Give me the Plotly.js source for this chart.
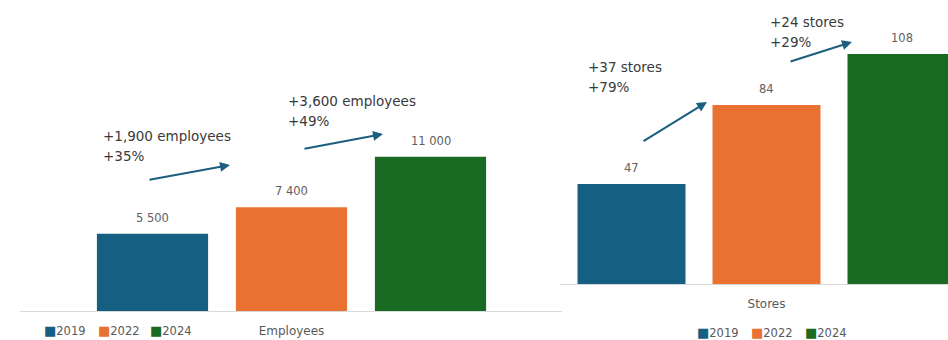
<!DOCTYPE html>
<html>
<head>
<meta charset="utf-8">
<script src="https://cdn.plot.ly/plotly-3.0.1.min.js"></script>
<style>html,body{margin:0;padding:0;background:#fff;}#chart{width:948px;height:340px;}</style>
</head>
<body>
<div id="chart"></div>
<script>
// ---- data ----
const years = ['2019', '2022', '2024'];
const colors = ['#156082', '#E97132', '#196B24'];
const employeeCategory = ['Employees'];
const storeCategory = ['Stores'];
const employees = [5500, 7400, 11000];
const stores = [47, 84, 108];
const employeeChangeText = ['+1,900 employees', '+3,600 employees'];
const employeePctText = ['+35%', '+49%'];
const storeChangeText = ['+37 stores', '+24 stores'];
const storePctText = ['+79%', '+29%'];

// ---- helpers ----
const W = 948, H = 340;
const px = x => x / W;
const py = y => 1 - y / H;
const fmt = n => String(n).replace(/\B(?=(\d{3})+(?!\d))/g, ' ');
const BARGAP = 0.25, GROUPGAP = 0.2;
const barCenter = i => {
  const group = 1 - BARGAP, slot = group / years.length;
  return -group / 2 + slot * (i + 0.5);
};

const traces = [];
years.forEach((yr, i) => {
  traces.push({type: 'bar', name: yr, x: employeeCategory, y: [employees[i]],
    marker: {color: colors[i]}, xaxis: 'x', yaxis: 'y', hoverinfo: 'name+y'});
});
years.forEach((yr, i) => {
  traces.push({type: 'bar', name: yr, x: storeCategory, y: [stores[i]],
    marker: {color: colors[i]}, xaxis: 'x2', yaxis: 'y2', hoverinfo: 'name+y'});
});

const annotations = [];
// value labels
employees.forEach((v, i) => annotations.push({xref: 'x', yref: 'y', x: barCenter(i), y: v,
  text: fmt(v), showarrow: false, yanchor: 'middle', yshift: 16,
  font: {family: 'DejaVu Sans', size: 11.5, color: '#606060'}}));
stores.forEach((v, i) => annotations.push({xref: 'x2', yref: 'y2', x: barCenter(i), y: v,
  text: fmt(v), showarrow: false, yanchor: 'middle', yshift: 16,
  font: {family: 'DejaVu Sans', size: 11.5, color: '#606060'}}));

// change callouts
const calloutFont = {family: 'DejaVu Sans', size: 13.5, color: '#3a3a3a'};
const callouts = [
  [employeeChangeText[0], 101, 136], [employeePctText[0], 101, 156],
  [employeeChangeText[1], 286, 101], [employeePctText[1], 286, 121],
  [storeChangeText[0], 586, 67], [storePctText[0], 586, 87],
  [storeChangeText[1], 768, 22], [storePctText[1], 768, 42]
];
callouts.forEach(([t, x, y]) => annotations.push({xref: 'paper', yref: 'paper',
  x: px(x), y: py(y), text: t, showarrow: false, xanchor: 'left', yanchor: 'middle', font: calloutFont}));

// arrows [headX, headY, tailX, tailY]
const arrows = [[230, 165, 148, 180], [383, 134, 303, 149], [707, 102, 642, 142], [852, 42, 789, 62]];
arrows.forEach(([hx, hy, tx, ty]) => annotations.push({xref: 'paper', yref: 'paper',
  x: px(hx), y: py(hy), ax: tx - hx, ay: ty - hy, text: '', showarrow: true,
  arrowhead: 2, arrowsize: 1, arrowwidth: 2, arrowcolor: '#1B5F80', standoff: 0}));

// legends (square + year)
const legendRows = [[[42, 96, 148], 330], [[695, 749, 803], 332]];
legendRows.forEach(([xs, y]) => years.forEach((yr, i) => annotations.push({xref: 'paper', yref: 'paper',
  x: px(xs[i]), y: py(y), xanchor: 'left', yanchor: 'middle', showarrow: false,
  text: '<span style="color:' + colors[i] + ';font-size:13px">■</span>' + yr,
  font: {family: 'DejaVu Sans', size: 11.5, color: '#595959'}})));

const axisCommon = {showline: true, linecolor: '#d9d9d9', linewidth: 1, ticks: '', showgrid: false,
  zeroline: false, fixedrange: true, ticklabelstandoff: 9,
  tickfont: {family: 'DejaVu Sans', size: 12, color: '#595959'}};

const layout = {
  width: W, height: H, margin: {l: 0, r: 0, t: 0, b: 0},
  paper_bgcolor: '#ffffff', plot_bgcolor: '#ffffff',
  barmode: 'group', bargap: BARGAP, bargroupgap: GROUPGAP, showlegend: false,
  font: {family: 'DejaVu Sans', color: '#595959'},
  xaxis: Object.assign({}, axisCommon, {domain: [px(20), px(562)], range: [-0.4883, 0.4865], anchor: 'y'}),
  yaxis: {domain: [py(311), 1], range: [0, 22164], visible: false, fixedrange: true, anchor: 'x'},
  xaxis2: Object.assign({}, axisCommon, {domain: [px(560), 1], range: [-0.3824, 0.3361], anchor: 'y2'}),
  yaxis2: {domain: [py(284), 1], range: [0, 133.34], visible: false, fixedrange: true, anchor: 'x2'},
  annotations: annotations
};

Plotly.newPlot('chart', traces, layout, {displayModeBar: false, staticPlot: true});
</script>
</body>
</html>
